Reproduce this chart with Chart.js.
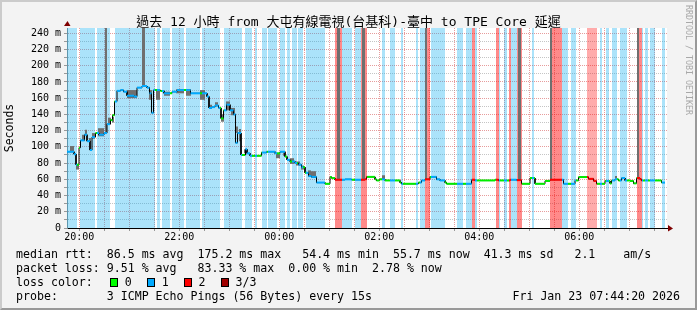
<!DOCTYPE html>
<html>
<head>
<meta charset="utf-8">
<script src="https://cdn.jsdelivr.net/npm/chart.js@4.4.1/dist/chart.umd.min.js"></script>
<style>
  body { margin: 0; background: #f3f3f3; }
  #wrap { position: relative; width: 697px; height: 310px; background: #f3f3f3; overflow: hidden; }
  #chart { position: absolute; left: 0; top: 0; }
  #frame { position: absolute; left: 0; top: 0; width: 697px; height: 310px; box-sizing: border-box;
           border-top: 2px solid #cbcbcb; border-left: 2px solid #cbcbcb;
           border-right: 2px solid #999; border-bottom: 2px solid #999; pointer-events: none; }
  #title { position: absolute; left: 0; top: 14px; width: 697px; text-align: center; white-space: pre;
           font: 13px/15px "DejaVu Sans Mono", "Noto Sans CJK TC", monospace; color: #000; }
  #brand { position: absolute; left: 684px; top: 5px; writing-mode: vertical-rl; white-space: pre;
           font: 8.3px/10px "DejaVu Sans Mono", monospace; color: #a8a8a8; }
  .leg { position: absolute; left: 16px; white-space: pre; font: 11.6px/14px "DejaVu Sans Mono", monospace; color: #000; }
  .sq { display: inline-block; width: 8px; height: 9px; box-sizing: border-box; border: 1px solid #000;
        vertical-align: -1px; margin-left: 1px; }
</style>
</head>
<body>
<div id="wrap">
  <canvas id="chart" width="697" height="310"></canvas>
  <div id="title">過去 12 小時 from 大屯有線電視(台基科)-臺中 to TPE Core 延遲</div>
  <div id="brand">RRDTOOL / TOBI OETIKER</div>
  <div class="leg" style="top:247px">median rtt:  86.5 ms avg  175.2 ms max   54.4 ms min  55.7 ms now  41.3 ms sd   2.1    am/s</div>
  <div class="leg" style="top:261px">packet loss: 9.51 % avg   83.33 % max  0.00 % min  2.78 % now</div>
  <div class="leg" style="top:275px">loss color:  <span class="sq" style="background:#00ff00;margin-left:3px"></span> 0  <span class="sq" style="background:#00aaff"></span> 1  <span class="sq" style="background:#ff0000"></span> 2  <span class="sq" style="background:#a00000"></span> 3/3</div>
  <div class="leg" style="top:289px">probe:       3 ICMP Echo Pings (56 Bytes) every 15s</div>
  <div class="leg" style="top:289px;left:auto;right:17px">Fri Jan 23 07:44:20 2026</div>
  <div id="frame"></div>
</div>
<script>
// one row = one pixel column of the rrd graph = 72 s, 600 rows = 12 h
const ROW_SEC = 72;
const ROW0_SEC = 19 * 3600 + 45 * 60 + 14;
const ROWS = 600;
const Y_TOP = 246.5;

// packet loss background bands [from, to) in rows, loss level (1 = 1/3, 2 = 2/3, 3 = heavy)
const bandFrom = [0, 13, 30, 48, 90, 95, 105, 119, 135, 157, 178, 188, 195, 201, 213, 220, 225, 231, 239,
  268, 275, 288, 294, 315, 323, 334, 349, 353, 358, 364, 390, 399, 405, 408, 429, 432, 437, 442, 444, 450,
  465, 483, 495, 504, 520, 533, 539, 545, 553, 570, 575, 578, 583, 595];
const bandTo = [10, 28, 43, 88, 93, 103, 117, 133, 153, 175, 185, 190, 200, 210, 218, 223, 230, 236, 258,
  275, 285, 294, 300, 318, 328, 336, 351, 358, 363, 378, 396, 405, 408, 410, 432, 433, 440, 444, 450, 455,
  467, 495, 501, 509, 530, 535, 542, 550, 560, 575, 576, 581, 588, 598];
const bandLoss = [1, 1, 1, 1, 1, 1, 1, 1, 1, 1, 1, 1, 1, 1, 1, 1, 1, 1, 1,
  3, 1, 1, 3, 1, 1, 1, 1, 1, 3, 1, 1, 1, 3, 1, 3, 1, 1, 3, 1, 3,
  1, 3, 1, 1, 2, 1, 1, 1, 1, 3, 1, 1, 1, 1];

// smoke (spread of the pings) [from, to) rows, low / high in ms
const smokeFrom = [3, 9, 15, 18, 22, 25, 31, 38, 41, 45, 60, 75, 82, 89, 97, 109, 119, 133, 143, 148, 154, 159,
  164, 169, 172, 177, 209, 216, 223, 229, 234, 241, 244, 270, 295, 315, 358, 451, 483, 548, 570];
const smokeTo = [7, 12, 17, 20, 24, 28, 37, 40, 44, 47, 70, 78, 85, 93, 103, 117, 124, 138, 145, 151, 157, 163,
  168, 171, 174, 179, 213, 218, 227, 233, 237, 244, 249, 273, 298, 318, 360, 454, 485, 550, 572];
const smokeLo = [94, 72, 108, 115, 106, 110, 113, 117, 128, 130, 160, 175, 158, 158, 163, 166, 163, 158, 147, 150, 131, 145,
  139, 117, 107, 92, 86, 89, 79, 77, 72, 64, 62, 60, 60, 60, 60, 59, 60, 61, 62];
const smokeHi = [101, 79, 115, 121, 111, 117, 123, 260, 136, 137, 170, 260, 170, 170, 168, 171, 171, 170, 152, 155, 140, 156,
  148, 125, 122, 97, 92, 93, 86, 82, 77, 71, 70, 260, 260, 65, 260, 260, 260, 64, 260];

// median rtt, step starts in rows and value in ms
const medRow = [0, 7, 9, 12, 13.5, 17.5, 20, 23, 25, 28.5, 32, 37, 40, 43.5, 45.5, 47.5, 50, 53.5, 56.5, 60,
  67, 70, 75, 80, 82.5, 84.5, 86.5, 93.5, 97, 105, 110, 123.5, 140, 142, 145, 148, 151.5, 154, 156.5, 159.5,
  163, 166.5, 168.5, 170.5, 174, 178.5, 180, 183, 194.5, 199.5, 208, 213, 218, 220, 223, 228, 231.5, 234.5,
  238, 241.5, 244.5, 249.5, 258, 263, 264.5, 268, 278, 284.5, 298, 299.5, 308, 309.5, 312.5, 318, 333, 334.5,
  351.5, 354.5, 358, 363, 369.5, 373, 378, 379.5, 404.5, 408, 428, 431.5, 443, 449.5, 454.5, 463, 468, 478,
  483, 496.5, 508, 511.5, 521.5, 526.5, 529.5, 538, 543, 544.5, 548, 551.5, 554.5, 558, 563, 566.5, 569.5,
  573, 574.5, 594.5];
const medMs = [94, 91, 78, 99, 108, 115, 107, 96, 112, 117, 115, 117, 128, 133, 139, 156, 169, 170, 168, 163,
  162, 173, 175, 173, 166, 142, 170, 169, 166, 168, 170, 166, 162, 148, 149, 151, 148, 135, 145, 152,
  145, 140, 105, 117, 90, 97, 92, 89, 93, 94, 92, 94, 88, 84, 82, 80, 78, 75,
  68, 64, 63, 56, 54.5, 63, 61.5, 59.5, 60, 59.5, 60, 63, 60, 58.6, 60, 58.6, 56, 54.5,
  56, 58.6, 60, 63, 60, 58.6, 56, 54.5, 59.5, 58.6, 59.5, 58.6, 59.5, 59, 54.5, 61.6, 54.5, 58,
  59.5, 54.5, 58.6, 62.8, 60.6, 58, 54.5, 58, 55, 58.6, 60, 58.6, 61.6, 58.6, 58, 55, 61.6,
  60, 58.6, 56];
const MED_END = 598;

const timeLabels = ['20:00', '22:00', '00:00', '02:00', '04:00', '06:00'];

const BAND_COLORS = { 1: 'rgba(0,170,240,0.33)', 2: 'rgba(255,0,0,0.33)', 3: 'rgba(255,0,0,0.46)' };
const LINE_COLORS = ['#00ee00', '#00aaff', '#ff0000', '#ff0000'];
const SMOKE = '#6f6f6f';
const MGRID = 'rgba(215,90,90,0.6)';
const GRID = 'rgba(140,140,140,0.5)';
const FONT = 'DejaVu Sans Mono';

function lossAt(row) {
  for (let i = 0; i < bandFrom.length; i++) {
    if (row >= bandFrom[i] && row < bandTo[i]) return bandLoss[i];
  }
  return 0;
}

function bandPoints(level) {
  const pts = [];
  bandFrom.forEach((f, i) => {
    if (bandLoss[i] !== level) return;
    pts.push({ x: f, y: Y_TOP }, { x: bandTo[i], y: Y_TOP }, { x: bandTo[i], y: null });
  });
  return pts;
}

function smokePoints(vals) {
  const pts = [];
  smokeFrom.forEach((f, i) => {
    pts.push({ x: f, y: vals[i] }, { x: smokeTo[i], y: vals[i] }, { x: smokeTo[i], y: null });
  });
  return pts;
}

const medPts = [];
const colPts = [];
const edges = bandFrom.concat(bandTo);
medRow.forEach((r, i) => {
  const end = i + 1 < medRow.length ? medRow[i + 1] : MED_END;
  medPts.push({ x: r, y: medMs[i] }, { x: end, y: medMs[i] });
  const cuts = edges.filter(e => e > r && e < end).sort((a, b) => a - b);
  [r, ...cuts, end].forEach(x => colPts.push({ x: x, y: medMs[i] }));
});

function clock(v) {
  const sec = Math.round(ROW0_SEC + v * ROW_SEC) % 86400;
  const h = Math.floor(sec / 3600), m = Math.floor((sec % 3600) / 60);
  return String(h).padStart(2, '0') + ':' + String(m).padStart(2, '0');
}

const plotDeco = {
  id: 'plotDeco',
  beforeDraw(chart) {
    const { ctx, chartArea: a } = chart;
    ctx.save();
    ctx.fillStyle = '#ffffff';
    ctx.fillRect(a.left, a.top, a.right - a.left, a.bottom - a.top);
    ctx.restore();
  },
  afterDraw(chart) {
    const { ctx, chartArea: a } = chart;
    ctx.save();
    ctx.fillStyle = '#7f0000';
    ctx.beginPath();
    ctx.moveTo(a.left - 3, a.top - 2);
    ctx.lineTo(a.left + 3.5, a.top - 2);
    ctx.lineTo(a.left + 0.5, a.top - 7);
    ctx.closePath();
    ctx.fill();
    ctx.beginPath();
    ctx.moveTo(a.right + 1, a.bottom - 3);
    ctx.lineTo(a.right + 1, a.bottom + 3.5);
    ctx.lineTo(a.right + 6, a.bottom + 0.5);
    ctx.closePath();
    ctx.fill();
    ctx.restore();
  }
};

const lineBase = { pointRadius: 0, tension: 0, spanGaps: false };

new Chart(document.getElementById('chart'), {
  type: 'line',
  data: {
    datasets: [
      Object.assign({}, lineBase, {
        label: 'median', data: colPts, order: 0, borderWidth: 2, borderColor: LINE_COLORS[0],
        borderCapStyle: 'butt', fill: false,
        segment: {
          borderColor: c => c.p0.parsed.y !== c.p1.parsed.y ? 'rgba(0,0,0,0)'
            : LINE_COLORS[lossAt((c.p0.parsed.x + c.p1.parsed.x) / 2)]
        }
      }),
      Object.assign({}, lineBase, {
        label: 'median steps', data: medPts, order: 1, borderWidth: 1, borderColor: '#000', fill: false
      }),
      Object.assign({}, lineBase, {
        label: 'smoke hi', data: smokePoints(smokeHi), order: 2, borderWidth: 0,
        borderColor: 'rgba(0,0,0,0)', backgroundColor: SMOKE, fill: '+1'
      }),
      Object.assign({}, lineBase, {
        label: 'smoke lo', data: smokePoints(smokeLo), order: 2, borderWidth: 0,
        borderColor: 'rgba(0,0,0,0)', fill: false
      }),
      ...[1, 2, 3].map(level => Object.assign({}, lineBase, {
        label: 'loss ' + level, data: bandPoints(level), order: 3, borderWidth: 0,
        borderColor: 'rgba(0,0,0,0)', backgroundColor: BAND_COLORS[level], fill: 'origin'
      }))
    ]
  },
  options: {
    responsive: false,
    animation: false,
    layout: { padding: { top: 28, right: 30, bottom: 62, left: 0 } },
    plugins: { legend: { display: false }, tooltip: { enabled: false } },
    scales: {
      x: {
        type: 'linear', min: 0, max: ROWS,
        afterBuildTicks: s => {
          const ticks = [];
          for (let sec = Math.ceil(ROW0_SEC / 1800) * 1800; (sec - ROW0_SEC) / ROW_SEC <= ROWS; sec += 1800) {
            ticks.push({ value: (sec - ROW0_SEC) / ROW_SEC });
          }
          s.ticks = ticks;
        },
        afterFit: s => { s.height = 20; },
        ticks: {
          autoSkip: false, maxRotation: 0, padding: 0, color: '#000',
          font: { family: FONT, size: 10 },
          callback: v => timeLabels.includes(clock(v)) ? clock(v) : ''
        },
        grid: { color: MGRID, tickLength: 3, tickColor: '#999' },
        border: { color: '#000', width: 1, dash: [1, 1] }
      },
      y: {
        min: 0, max: Y_TOP,
        afterFit: s => { s.width = 67; },
        ticks: {
          stepSize: 10, includeBounds: false, autoSkip: false, padding: 3, color: '#000',
          font: { family: FONT, size: 10 },
          callback: v => v === 0 ? '0' : (v % 20 === 0 ? v + ' m' : '')
        },
        grid: { color: c => (c.tick && c.tick.value % 20 === 0) ? MGRID : GRID, tickLength: 3, tickColor: '#999' },
        border: { color: '#8c8c8c', width: 1, dash: [1, 1] },
        title: { display: true, text: 'Seconds', color: '#000', font: { family: FONT, size: 11.5 }, padding: { top: 3, bottom: 0 } }
      }
    }
  },
  plugins: [plotDeco]
});
</script>
</body>
</html>
